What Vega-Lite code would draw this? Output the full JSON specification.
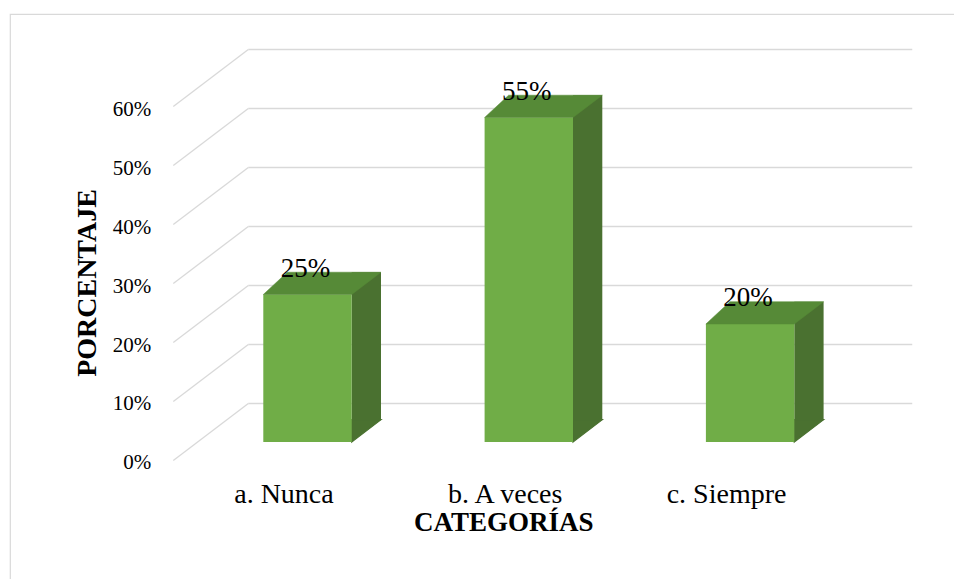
{
  "$schema": "https://vega.github.io/schema/vega-lite/v6.json",
  "width": 964,
  "height": 585,
  "autosize": {"type": "none"},
  "padding": {"left": 10, "top": 14, "right": -20, "bottom": -20},
  "background": "white",
  "config": {
    "view": {"stroke": "#D9D9D9", "strokeWidth": 1.2},
    "font": "Liberation Serif",
    "axis": {"grid": false, "domain": false, "ticks": false, "tickSize": 0}
  },
  "datasets": {
    "respuestas": [
      {"categoria": "a. Nunca", "porcentaje": 0.25},
      {"categoria": "b. A veces", "porcentaje": 0.55},
      {"categoria": "c. Siempre", "porcentaje": 0.20}
    ],
    "escala": [
      {"v": 0}, {"v": 0.1}, {"v": 0.2}, {"v": 0.3}, {"v": 0.4}, {"v": 0.5}, {"v": 0.6}
    ]
  },
  "layer": [
    {
      "data": {"name": "escala"},
      "mark": {"type": "rule", "color": "#D9D9D9", "strokeWidth": 1.3, "xOffset": -35.65, "x2Offset": 185.7, "yOffset": -57},
      "encoding": {
        "x": {"datum": "a. Nunca", "type": "nominal", "title": "CATEGORÍAS", "scale": {"type": "band", "paddingInner": 0, "paddingOuter": 0.67804, "align": 0.54415}},
        "x2": {"datum": "c. Siempre"},
        "y": {"field": "v", "type": "quantitative", "title": "PORCENTAJE", "scale": {"domain": [-0.234746, 0.75678], "nice": false, "zero": false}}
      }
    },
    {
      "data": {"name": "escala"},
      "mark": {"type": "rule", "color": "#D9D9D9", "strokeWidth": 1.3, "xOffset": -110.65, "x2Offset": -35.65, "y2Offset": -57},
      "encoding": {
        "x": {"datum": "a. Nunca", "type": "nominal", "title": "CATEGORÍAS"},
        "x2": {"datum": "a. Nunca"},
        "y": {"field": "v", "type": "quantitative", "title": "PORCENTAJE", "scale": {"domain": [-0.234746, 0.75678], "nice": false, "zero": false}},
        "y2": {"field": "v"}
      }
    },
    {
      "data": {"name": "respuestas"},
      "mark": {"type": "bar", "width": 29.3, "color": "#4A7130", "xOffset": 82.4, "yOffset": -40.8, "y2Offset": -40.3},
      "encoding": {
        "x": {"field": "categoria", "type": "nominal", "title": "CATEGORÍAS"},
        "y": {"field": "porcentaje", "type": "quantitative", "title": "PORCENTAJE", "scale": {"domain": [-0.234746, 0.75678], "nice": false, "zero": false}},
        "y2": {"datum": 0}
      }
    },
    {
      "data": {"name": "respuestas"},
      "mark": {"type": "point", "shape": "M44.2,0L73.5,-22.3L44.2,-22.3Z", "size": 4, "filled": true, "opacity": 1, "fill": "#4A7130", "stroke": "#4A7130", "strokeWidth": 1.2, "xOffset": 23.55, "yOffset": -18.5},
      "encoding": {
        "x": {"field": "categoria", "type": "nominal", "title": "CATEGORÍAS"},
        "y": {"datum": 0, "type": "quantitative", "title": "PORCENTAJE", "scale": {"domain": [-0.234746, 0.75678], "nice": false, "zero": false}}
      }
    },
    {
      "data": {"name": "respuestas"},
      "mark": {"type": "bar", "width": 88.4, "color": "#70AD47", "xOffset": 23.55, "yOffset": -18.5, "y2Offset": -18.5},
      "encoding": {
        "x": {
          "field": "categoria", "type": "nominal", "title": "CATEGORÍAS",
          "axis": {
            "orient": "bottom", "offset": -97, "labelFontSize": 28, "labelFont": "Liberation Serif", "labelColor": "#000000",
            "labelAlign": "center", "labelBaseline": "alphabetic", "labelPadding": 0, "labelAngle": 0, "labelOverlap": false,
            "title": "CATEGORÍAS", "titleFont": "Liberation Serif", "titleFontSize": 27, "titleFontWeight": "bold", "titleColor": "#000000",
            "titleX": 493.3, "titleY": 28, "titleBaseline": "alphabetic", "titleAlign": "center", "ticks": false, "domain": false
          }
        },
        "y": {
          "field": "porcentaje", "type": "quantitative", "title": "PORCENTAJE",
          "scale": {"domain": [-0.234746, 0.75678], "nice": false, "zero": false},
          "axis": {
            "orient": "left", "offset": -140.7, "values": [0, 0.1, 0.2, 0.3, 0.4, 0.5, 0.6], "format": ".0%",
            "labelFontSize": 21, "labelFont": "Liberation Serif", "labelColor": "#000000", "labelPadding": 0, "labelOffset": 2.5,
            "labelAlign": "right", "labelBaseline": "middle", "labelFlush": false, "labelOverlap": false,
            "title": "PORCENTAJE", "titleFont": "Liberation Serif", "titleFontSize": 28, "titleFontWeight": "bold", "titleColor": "#000000",
            "titleX": -55.7, "titleY": 268.5, "titleBaseline": "alphabetic", "titleAlign": "center", "titleAngle": -90,
            "ticks": false, "domain": false, "grid": false
          }
        },
        "y2": {"datum": 0}
      }
    },
    {
      "data": {"name": "respuestas"},
      "mark": {"type": "point", "shape": "M-44.2,0L44.2,0L73.5,-22.3L-20.2,-22.3Z", "size": 4, "filled": true, "opacity": 1, "fill": "#568A37", "stroke": "#568A37", "strokeWidth": 0.5, "xOffset": 23.55, "yOffset": -18.5},
      "encoding": {
        "x": {"field": "categoria", "type": "nominal", "title": "CATEGORÍAS"},
        "y": {"field": "porcentaje", "type": "quantitative", "title": "PORCENTAJE", "scale": {"domain": [-0.234746, 0.75678], "nice": false, "zero": false}}
      }
    },
    {
      "data": {"name": "respuestas"},
      "mark": {"type": "text", "font": "Liberation Serif", "fontSize": 27, "color": "#000000", "baseline": "alphabetic", "align": "center", "xOffset": 21.5, "yOffset": -36.5},
      "encoding": {
        "x": {"field": "categoria", "type": "nominal", "title": "CATEGORÍAS"},
        "y": {"field": "porcentaje", "type": "quantitative", "title": "PORCENTAJE", "scale": {"domain": [-0.234746, 0.75678], "nice": false, "zero": false}},
        "text": {"field": "porcentaje", "type": "quantitative", "format": ".0%"}
      }
    }
  ]
}
